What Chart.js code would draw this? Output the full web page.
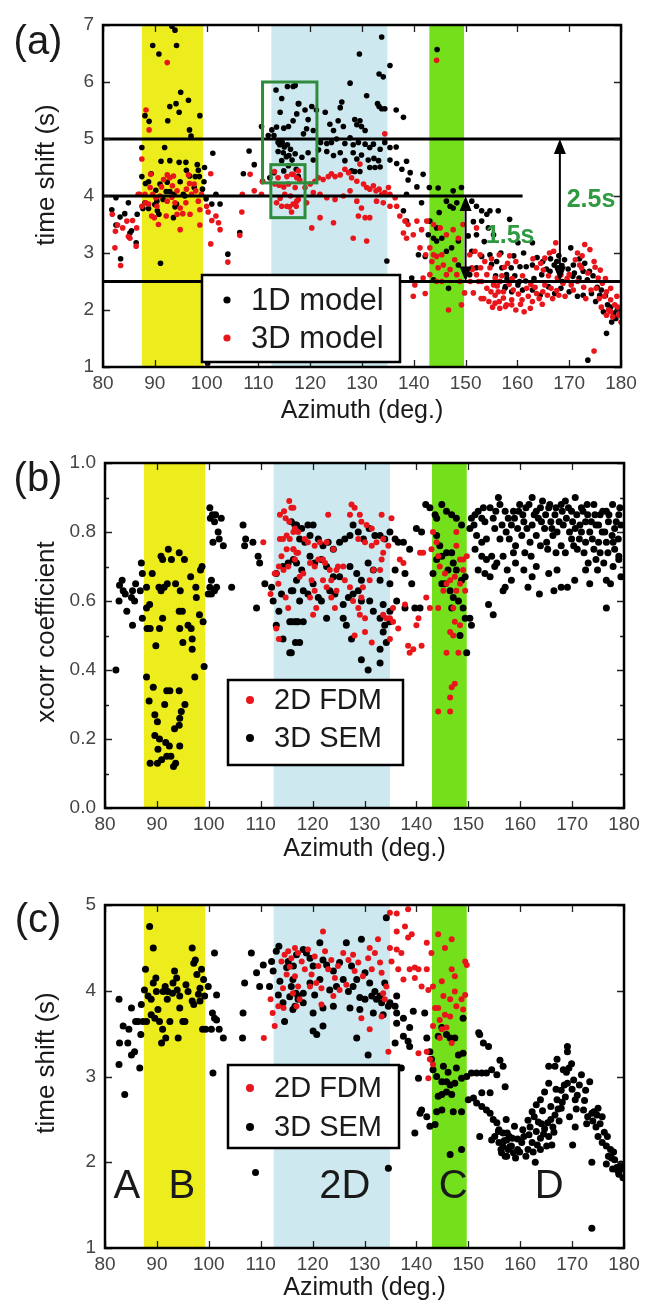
<!DOCTYPE html>
<html>
<head>
<meta charset="utf-8">
<script src="https://cdn.jsdelivr.net/npm/chart.js@4.4.1/dist/chart.umd.min.js"></script>
<style>
  body { margin: 0; background: #fff; }
  #wrap { position: relative; width: 647px; height: 1300px; }
  canvas { position: absolute; left: 0; }
</style>
</head>
<body>
<div id="wrap">
  <canvas id="panelA" width="647" height="430" style="top:0px"></canvas>
  <canvas id="panelB" width="647" height="440" style="top:430px"></canvas>
  <canvas id="panelC" width="647" height="430" style="top:870px"></canvas>
</div>
<script>
// azimuth windows shaded in every panel (deg)
const bandRanges = [[87.5, 99.3], [112.5, 134.9], [143.0, 149.7]];
const bandColors = ['#eded1e', '#cde8ee', '#74e01c'];

// (a) travel time shift, 1D vs 3D model, [azimuth, shift s]
const shift1D = [
  [81.7,3.76],[82.5,3.97],[82.5,3.49],[83.3,3.63],[83.4,2.9],[84.2,3.69],[84.9,3.88],[85.2,3.35],[85.5,3.39],[86.4,3.18],[86.6,3.68],
  [87.5,4.34],[87.5,4.85],[88.1,5.41],[88.9,5.31],[89.6,6.64],[90.8,6.49],[93.3,6.98],[93.9,6.91],[94.2,6.64],[92.9,5.57],[92.5,5.32],
  [94.1,5.62],[94.7,5.47],[95,5.82],[96.5,5.68],[96.7,5.16],[97,5.05],[98.7,5.41],[91.9,4.85],[91.2,4.61],[92.9,4.62],[94.7,4.59],
  [96,4.59],[98.2,4.55],[98.4,4.45],[99.6,4.5],[89.3,4.39],[88.2,4.22],[88.8,4.25],[91,4.21],[92.4,4.24],[94.9,4.25],[96.1,4.45],
  [96.7,4.35],[97.8,4.34],[90.2,4.1],[92.2,4.08],[92.9,4.08],[93.7,4.03],[95.5,4.03],[95.8,4],[97.6,4.15],[99.2,4.12],[87.7,3.78],
  [88.1,3.88],[88.8,3.78],[90,3.85],[90.4,3.91],[90.5,3.74],[90.8,3.68],[91.6,3.94],[93.6,3.62],[94.2,3.86],[93.9,3.81],[91.1,2.82],
  [98.6,4.34],[99.5,4.25],
  [101.2,4.75],[99.9,3.95],[101,3.86],[101.8,4.03],[102.6,3.86],[104.1,2.98],[106.4,3.36],[107.1,4.39],[108.2,4.79],[109.2,4.55],
  [110.6,5.22],[111.9,5.06],[110.8,4.26],[100.2,1.06],
  [113.4,5.86],[114.5,5.71],[114.2,5.47],[113.5,5.21],[112.6,5.16],[113,5.06],[114.9,5.19],[115.8,5.22],[116.7,5.32],[117.4,5.44],
  [117.7,5.62],[115.6,5.92],[116.7,5.92],[113.8,4.94],[114.1,4.9],[114.6,4.94],[115,4.86],[115.6,4.9],[113.8,4.78],[114.8,4.76],
  [115.4,4.69],[115.9,4.71],[116.2,4.82],[116.5,4.63],[114.5,4.62],[114.9,4.44],[115.8,4.53],[117.3,4.47],[117.7,4.34],[112.2,4.32],[113,4.41],
  [117.1,5.94],[117.8,5.62],[119,5.51],[119.6,5.34],[119.3,5.18],[120.3,5.57],[121.2,5.51],[122.9,5.47],[123.8,5.26],[124.5,5.15],
  [125.4,5.32],[126.1,5.65],[125.8,5.55],[126.4,5.22],[127.7,5.98],[128.6,5.34],[129,5.25],[129.6,5.32],[129.9,5.22],[129.5,6.49],
  [130.9,5.76],[133,5.62],[133.3,5.57],[133.8,5.53],[134.4,5.53],[133.3,6.14],[134.1,6.09],[133.8,6.79],[135.4,6.29],[136.6,5.51],
  [138,5.38],[130.6,5.15],
  [118.7,5.09],[120.6,5.15],[122,4.94],[123.2,4.92],[124.1,4.94],[125.1,5],[126.7,4.92],[127.7,5.02],[128.3,4.9],[129.3,4.94],
  [130.6,4.91],[131.5,4.85],[132.2,4.91],[133.5,4.82],[134.4,4.94],[135.4,4.85],[136.6,4.86],[117.1,4.74],[118.4,4.68],[119.6,4.76],
  [120.6,4.63],[121.6,4.81],[123.2,4.78],[124.5,4.71],[125.8,4.76],[126.7,4.62],[128.3,4.76],[129,4.65],[129.9,4.72],[131.2,4.63],
  [132.3,4.66],[133.2,4.62],[133.5,4.51],[131.5,4.5],[132.5,4.5],[128,4.44],[128.6,4.43],[129.6,4.43],[135.4,4.63],[136.7,4.57],
  [137.7,4.47],[138.6,4.61],[139.3,4.41],[141.8,4.38],[143,4.15],[144.7,4.14],[144.5,6.57],[134.8,2.86],[138.9,4.28],[140.6,4.16],
  [147.6,4.09],[149.2,4.15],[146.3,3.91],[147,3.82],[147.6,3.79],[148.3,3.88],[144.9,3.71],[143.1,3.56],[142.8,3.32],[143.8,3.26],
  [144.4,3.21],[145.4,3.26],[146.3,3.03],[147.3,3.09],[148.6,3.21],[144.4,3.44],[142.2,2.94],[140.9,2.97],[139.6,2.56],[138.6,3.56],
  [138,3.74],[138.6,4.03],[141.5,3.88],[146.7,2.38],[143.8,2.53],[148.6,2.79],
  [151.2,3.91],[152.1,3.82],[153.1,3.74],[154.1,3.68],[154.7,3.74],[156.3,3.74],[153.1,3.56],[152.1,3.32],[154.4,3.44],[155.4,3.32],
  [151.2,3.03],[153.1,2.94],[152.1,2.74],[150.8,2.62],[154.7,2.97],[156,2.85],[157,2.74],[157.9,2.62],[156.6,2.5],[157.6,2.38],
  [158.5,3.59],[160.1,3.18],[162.9,3.18],[158.8,2.74],[160.5,2.76],[161.7,2.76],[162.9,2.79],[160.4,2.5],[161.6,2.51],[163.2,2.55],
  [164.7,2.62],[166.3,2.68],[167.1,2.79],[167.9,2.74],[168.7,2.5],[169.1,2.88],[170.3,3.09],[170.7,2.59],[171.9,2.56],[172.7,2.68],
  [173.5,2.53],[173.9,2.68],[172.7,2.26],[174.3,2.29],[175.1,2.15],[175.9,2.26],[176.6,1.97],[177.4,2.09],[178.2,1.79],[178.6,1.94],
  [179,1.85],[177.2,1.59],[173.6,1.12],[157.7,2.41],[158.9,2.32],[160.1,2.44],[162.9,2.35],[164.4,2.26],[166,2.41],[167.2,2.29],
  [168.4,2.38],[170,2.32],[171.6,2.24],[170.8,2.79],
  [159.3,2.95],[161.2,3.0],[163.8,2.92],[164.9,2.85],[165.6,2.72],[166.4,2.9],[167.6,2.85],[168,2.95],[168.6,2.78],[169.8,2.72],
  [171,2.65],[172,2.9],[173,2.82],[174.6,2.6],[175.4,2.4],[176.2,2.35],[177,2.25],[178,2.05],[179.3,2],[161,2.35],[159.5,2.6],
  [158,2.55],[155.8,2.6],[155,2.8],[150.5,3.3],[151.5,3.55],[153.6,3.2],[156.8,3]
];
const shift3D = [
  [81.8,3.68],[82.3,3.09],[82.4,3.38],[82.8,3.49],[83.8,3.44],[84.6,3.56],[84.9,3.29],[85.2,3.26],[85.7,3.57],[86.4,3.12],[86.5,3.44],
  [86.8,4.03],[83.4,2.78],
  [88.3,5.51],[88.9,5.16],[92.4,6.34],[87.5,4.65],[87.1,4.03],[87.5,3.82],[88.1,4.03],[88.8,3.86],[89.4,3.65],[89.9,3.62],[90.4,3.82],
  [89.6,4.03],[91,4],[91.3,4.16],[91.7,4.29],[92.4,4.37],[92.9,4.32],[93.4,4.18],[93.6,4.35],[94.3,4.09],[93.9,3.88],[94.9,3.79],
  [94.3,3.68],[94.9,3.41],[96,3.88],[96.1,4.12],[96.5,4.37],[96.7,4.22],[97.1,4.03],[97.6,4.21],[97.9,4.09],[98.4,3.91],[98.7,3.76],
  [99,4.03],[96.8,3.68],[95.4,3.69],[92.2,3.65],[90.7,3.5],[93.3,3.98],[92.4,3.91],[89.2,4.38],[90.2,3.97],[89.1,4.15],[88.2,3.88],[98.7,3.49],
  [100.8,4.39],[100,3.82],[100.3,3.72],[101,3.57],[101.8,3.65],[102.3,3.53],[102.6,3.41],[100.8,3.16],[104.1,2.84],[106.4,3.31],
  [106.8,3.72],[106.9,4.03],[108.4,4.38],[109.2,4.09],[110.6,4.03],[110.8,4.25],[100.2,0.98],
  [113.1,4.43],[113.8,4.32],[113.2,4.21],[114,4.19],[114.9,4.16],[115.8,4.21],[117.1,4.15],[116.2,4],[115.1,4.03],[114.2,3.96],
  [113.5,3.88],[114.5,3.82],[115.5,3.82],[116.7,3.86],[116,3.81],[116.4,3.72],[117.3,3.82],[117.7,3.94],[116.7,4.38],[115.5,4.34],[117.7,4.44],
  [116.4,4.38],[117.4,4.32],[118,4.28],[119,4.15],[120,4.21],[120.9,4.26],[121.6,4.32],[122.5,4.29],[123.5,4.34],[124.1,4.39],
  [124.8,4.34],[125.8,4.37],[126.7,4.47],[127.4,4.41],[128,4.32],[129,4.26],[129.6,4.56],[130.3,4.21],[130.9,4.15],[131.5,4.12],
  [132.2,4.18],[132.7,4.09],[133.3,4.12],[133.8,4.03],[134.4,4.06],[135.1,4.15],[134.4,5.09],[120.6,4.06],[121.9,4.03],[123.2,3.97],
  [124.8,3.94],[126.4,4],[127.7,4.09],[129,3.91],[129.9,3.79],[130.6,3.62],[131.5,3.62],[129.3,3.65],[124.5,3.53],[121.9,3.62],
  [120.3,3.44],[128.3,3.26],[130.9,3.21],[119.3,3.88],[117.4,3.91],[132.8,3.91],[134.1,3.88],[135.4,4.03],[135.4,3.82],[136.4,3.97],
  [137.3,3.65],[138.3,3.56],[138.9,3.5],[138,3.35],[138.6,3.26],[139.9,3.32],[140.6,3.56],[141.5,3.41],[141.2,3.09],[142.3,2.97],
  [143.1,3.09],[143.8,2.97],[143.5,2.85],[144.4,2.94],[145.4,2.97],[144.7,2.74],[145.7,2.79],[146.3,2.62],[147,2.71],[147.9,2.88],
  [148.3,2.62],[148.9,2.5],[149.2,2.09],[146.7,2],[145.4,2.5],[144.4,2.5],[143.1,2.62],[142.2,2.29],[139.9,2.24],[140.2,2.44],
  [141.8,2.56],[136.7,3.82],[144.4,6.38],[142.5,3.56],[143.8,3.5],[145.1,3.44],[146.3,3.32],[147.6,3.41],[148.6,3.26],[149.5,3.5],
  [150.8,2.97],[151.8,3.03],[152.8,2.97],[153.7,2.85],[154.7,2.74],[151.2,2.74],[152.1,2.62],[153.1,2.5],[154.1,2.38],[155.4,2.44],
  [156.3,2.32],[157.3,2.21],[157.9,2.09],[156.6,2.03],[155.7,2.12],[152.1,3.44],
  [156.5,2.97],[158.1,2.82],[159.7,2.85],[156.5,2.5],[157.3,2.32],[156.5,2.15],[157.7,2.06],[158.9,2.09],[159.7,2],[160.9,2.18],
  [162.1,2.24],[162.9,2.15],[163.7,2.29],[164.9,2.32],[165.3,2.44],[166.5,2.38],[167.7,2.56],[167,3.03],[167.4,3.18],[166.2,3],
  [165.3,2.91],[164.5,2.82],[163.7,2.74],[171.2,2.88],[172,2.79],[171.6,3],[172.4,2.74],[173.6,2.65],[174,3.06],[174.8,2.85],
  [175.6,2.56],[175.2,2.38],[176.4,2.47],[176.8,2.24],[177.2,2.32],[178,2.18],[178.8,2.09],[179.2,2.24],[179.6,1.91],[180,1.79],
  [178,1.97],[177.2,1.91],[174.8,1.28],[170,2.62],[168.8,2.47],[168,2.26],[169.2,2.24],[170.4,2.44],[161.3,1.97],[162.5,2.03],
  [158.9,2.18],[155.7,2.26],[154.9,2.32],[155.7,2.56],[154.1,2.62],[152.9,2.74],[152.5,2.5],[151.3,2.71],[150.9,2.5],
  [153.5,2.2],[154.5,2.15],[155.2,2.05],[156.1,2.42],[157,2.6],[158.4,2.45],[159.2,2.35],[160.2,2.28],[160.6,2.1],[161.8,2.38],
  [162.6,2.45],[163.4,2.4],[164.2,2.2],[164.8,2.1],[165.8,2.26],[166.8,2.2],[167.6,2.34],[168.4,2.62],[169.6,2.55],[170.8,2.35],
  [171.6,2.5],[172.8,2.4],[173.2,2.2],[174.2,2.35],[175.8,2.2],[176.2,2.05],[177.6,2],[178.4,1.88],[179.4,2.05],[179.8,1.95],
  [176,2.7],[177,2.55],[178,2.38],[161,2.6],[159,2.55],[157.5,2.75],[158.5,2.95],[155,2.9],[153,2.2],[151.5,2.3],[149.8,2.3],
  [166,2.6],[165,2.7],[163,2.9],[172.5,2.95],[173,3.15],[175,2.75]
];
// reference levels in (a): [shift, from az, to az]
const refLevels = [[5, 80, 180], [4, 80, 161], [2.5, 80, 180]];
// offsets marked with arrows: [az, low, high, label, label az, label shift]
const offsets = [[150, 2.5, 4, '1.5s', 158.6, 3.3], [168.2, 2.5, 5, '2.5s', 174.2, 3.93]];
// boxed subsets in (a): [az0, shift0, az1, shift1]
const boxes = [[110.8, 6.0, 121.3, 4.23], [112.4, 4.55, 119.0, 3.62]];

// (b) waveform cross-correlation coefficient
const xcorrSEM = [
  [82.8,0.646],[83.3,0.66],[82.7,0.60],[83.5,0.63],[84.2,0.57],[85.1,0.61],[85.3,0.53],[85.3,0.63],[85.9,0.65],[85.7,0.60],[86.8,0.63],
  [87,0.71],[87.2,0.68],[87.2,0.55],[82.1,0.40],[83.9,0.62],
  [88,0.64],[88,0.58],[88.1,0.52],[88.6,0.59],[88.7,0.52],[89.1,0.68],[88,0.38],[88.5,0.31],[89.3,0.35],[89.6,0.27],[90.1,0.25],
  [89.6,0.21],[88.7,0.13],[90.2,0.17],[89.8,0.47],[90.5,0.52],[90.4,0.64],[90.8,0.73],[91.1,0.72],[91.4,0.64],[92,0.65],[92.2,0.75],
  [92.8,0.72],[90.8,0.63],[91.1,0.55],[91.5,0.30],[91.9,0.34],[92.5,0.34],[94.3,0.34],[93.4,0.23],[94.3,0.24],[90.5,0.20],[91.7,0.19],
  [92.4,0.18],[92.7,0.15],[93.2,0.12],[93.6,0.13],[90.9,0.14],[90.1,0.13],[91.9,0.15],[94.4,0.18],[94.3,0.74],[95.3,0.72],[93.6,0.65],
  [94.5,0.63],[94.3,0.57],[94.9,0.57],[94.4,0.52],[95,0.48],[95.4,0.30],[94.7,0.28],[94.4,0.26],[96,0.53],[96.6,0.52],[96.8,0.49],
  [96.8,0.46],[97.3,0.38],[96.5,0.67],[97.5,0.64],[97.6,0.61],[98.2,0.56],[98.9,0.54],[99.1,0.41],[98.4,0.69],[98.7,0.70],
  [100.3,0.84],[100.2,0.87],[101.1,0.83],[100.7,0.85],[101.3,0.85],[102.4,0.84],[100.8,0.77],[101.8,0.80],[102,0.78],[102.8,0.76],
  [100.5,0.66],[100.2,0.64],[100.5,0.62],[101.1,0.63],[99.9,0.62],[101.5,0.64],[104.4,0.64],[106.6,0.82],[106.9,0.76],[107.1,0.78],
  [108.5,0.77],[109.2,0.58],[109.5,0.73],[109.8,0.71],[110.8,0.65],[112.1,0.64],[112.4,0.60],
  [113,0.53],[113.5,0.57],[114,0.62],[114.3,0.49],[115.6,0.45],[116.6,0.82],[116,0.54],[116.6,0.54],[117.2,0.54],[114.3,0.70],
  [115.3,0.71],[116.2,0.63],[113,0.68],[116.7,0.48],
  [115.9,0.83],[116.9,0.82],[117.9,0.81],[119.1,0.82],[120.1,0.82],[117.5,0.78],[118.5,0.77],[119.5,0.79],[121.1,0.78],[122,0.76],
  [123,0.77],[124,0.75],[125.2,0.77],[126.2,0.78],[127.2,0.79],[127.8,0.82],[128.8,0.80],[129.8,0.78],[130.9,0.81],[132,0.79],
  [133,0.79],[133.9,0.78],[134.9,0.80],[135.9,0.78],[136.5,0.77],[137.5,0.77],[138.7,0.75],[140,0.81],[141,0.80],[141.8,0.88],
  [142.6,0.87],[143.6,0.85],[143.9,0.84],[144.9,0.88],[145.8,0.86],[146.8,0.85],[147.7,0.84],[148.7,0.82],[116.3,0.72],[116.9,0.71],
  [117.9,0.69],[119.5,0.73],[120.4,0.71],[121.7,0.72],[122.7,0.70],[124,0.67],[125.2,0.67],[127.2,0.70],[128.5,0.68],[129.4,0.66],
  [130.7,0.71],[131.7,0.69],[133,0.66],[134.9,0.65],[135.9,0.69],[137.8,0.68],[139.1,0.65],[116.9,0.66],[118.2,0.63],[119.1,0.62],
  [120.1,0.65],[121.1,0.61],[121.7,0.60],[117.5,0.60],[115.9,0.63],[123.3,0.63],[124.3,0.62],[125.9,0.59],[126.9,0.61],[127.8,0.62],
  [128.8,0.63],[129.4,0.60],[131,0.60],[131.7,0.57],[133.6,0.59],[134.9,0.57],[136.2,0.60],[137.8,0.58],[139.7,0.58],[140.7,0.58],
  [115.6,0.54],[116.9,0.54],[118.2,0.54],[117.5,0.48],[115.9,0.45],[122.7,0.55],[125.9,0.55],[126.5,0.53],[127.5,0.49],[133,0.55],
  [133.9,0.53],[133.6,0.51],[134.2,0.48],[133,0.46],[129.4,0.43],[130.7,0.40],[133,0.42],[134.9,0.54],
  [143.9,0.79],[144.5,0.76],[144.9,0.73],[145.8,0.74],[146.8,0.74],[147.1,0.71],[147.7,0.69],[146.1,0.69],[145.5,0.65],[144.9,0.65],
  [146.5,0.63],[147.1,0.61],[148.1,0.60],[148.7,0.66],[149.4,0.67],[149,0.58],[149.4,0.55],[148.4,0.50],[149.7,0.45],[146.8,0.58],
  [143.9,0.72],[143.2,0.68],[150.6,0.53],[150.3,0.55],
  [150.3,0.81],[150.6,0.84],[151.3,0.85],[151.9,0.86],[152.6,0.84],[153.2,0.83],[154.2,0.87],[154.8,0.84],[155.8,0.90],[156.1,0.88],
  [157.1,0.86],[157.7,0.84],[151.6,0.79],[152.6,0.77],[153.5,0.78],[155.1,0.81],[156.1,0.78],[151.3,0.75],[152.6,0.73],[153.5,0.72],
  [154.5,0.73],[155.5,0.71],[156.7,0.73],[151.9,0.69],[153.2,0.68],[154.2,0.67],[155.1,0.70],[156.7,0.63],[153.9,0.59],[154.8,0.56],
  [158.7,0.86],[159.9,0.88],[161.1,0.87],[162.3,0.90],[163.1,0.86],[164.3,0.89],[165.5,0.87],[166.7,0.85],[167.9,0.88],[168.7,0.89],
  [169.9,0.86],[170.6,0.90],[171.8,0.87],[173,0.85],[174.2,0.88],[175.4,0.85],[176.6,0.86],[177.8,0.88],[179,0.85],[158.3,0.82],
  [159.5,0.81],[160.7,0.83],[162.3,0.82],[163.5,0.84],[164.7,0.81],[165.9,0.83],[167.1,0.80],[168.3,0.82],[169.5,0.80],[170.6,0.81],
  [171.8,0.80],[172.6,0.83],[173.4,0.80],[174.6,0.82],[175.8,0.80],[177,0.83],[178.2,0.81],[179.4,0.82],[157.9,0.78],[159.1,0.76],
  [160.3,0.79],[161.9,0.77],[163.1,0.79],[165.1,0.77],[166.3,0.79],[167.9,0.76],[169.9,0.78],[171,0.75],[172.6,0.77],[174.2,0.75],
  [175.4,0.74],[176.6,0.77],[178.2,0.75],[179,0.73],[159.1,0.71],[160.7,0.69],[162.3,0.67],[163.1,0.70],[158.3,0.66],[157.1,0.64],
  [165.5,0.68],[167.9,0.64],[169.1,0.64],[172.6,0.69],[173.4,0.65],[174.6,0.72],[176.6,0.66],[177.4,0.65],[179,0.72],[167.1,0.69],
  [157.5,0.69],[176.6,0.58],
  [158.9,0.84],[159.7,0.86],[160.5,0.85],[161.3,0.81],[161.7,0.88],[162.7,0.85],[163.9,0.87],[164.1,0.83],[164.9,0.85],[165.7,0.88],
  [166.1,0.81],[166.9,0.87],[167.5,0.83],[168.1,0.86],[168.9,0.84],[169.3,0.87],[170.1,0.83],[170.9,0.85],[171.5,0.82],[172.1,0.86],
  [172.9,0.88],[173.7,0.83],[174.4,0.85],[175.1,0.82],[175.9,0.86],[176.3,0.80],[177.1,0.85],[177.7,0.79],[178.5,0.83],[179.2,0.87],
  [178.9,0.78],[177.9,0.77],[176.9,0.74],[175.1,0.77],[173.9,0.78],[172.3,0.74],[171.4,0.78],[170.3,0.76],[168.7,0.74],[166.9,0.74],
  [165.3,0.75],[163.9,0.76],[162.1,0.73],[160.9,0.74],[158.7,0.74],[174.9,0.69],[176.1,0.71],[177.9,0.70],[179.4,0.67],[173.1,0.71],
  [161.5,0.64],[163.7,0.62],[166.5,0.63],[170.5,0.66],[155.3,0.86],[156.5,0.82],[157.3,0.80],[152.9,0.87],[151.1,0.82]
];
const xcorrFDM = [
  [110.5,0.77],[111.9,0.62],[113,0.52],[113.5,0.49],[113,0.68],[113.5,0.70],[112.7,0.68],[113.7,0.85],[114.5,0.86],[115.5,0.89],
  [115.9,0.87],[114.8,0.84],[115.5,0.83],[113.7,0.78],[114.3,0.78],[115,0.79],[115.6,0.78],[116.3,0.80],[116.3,0.75],[116.9,0.74],
  [115,0.75],[114,0.73],[114.4,0.69],[115.3,0.70],[113.4,0.65],[114.8,0.61],[115.3,0.58],[116.6,0.72],[117.2,0.74],
  [116.3,0.87],[116.6,0.81],[117.2,0.80],[118.5,0.78],[119.1,0.77],[120.4,0.76],[121.4,0.77],[122.7,0.77],[123,0.85],[124,0.75],
  [121.1,0.72],[122,0.72],[122.4,0.71],[119.5,0.71],[120.4,0.70],[118.2,0.68],[117.5,0.67],[116.3,0.75],[123.3,0.69],[124.9,0.70],
  [125.9,0.70],[127.5,0.88],[128.1,0.87],[127.2,0.85],[129.1,0.85],[129.4,0.83],[130.4,0.82],[131.4,0.81],[128.8,0.78],[130.1,0.77],
  [131.4,0.76],[132.3,0.77],[133.3,0.85],[133.6,0.78],[134.6,0.76],[135.2,0.84],[133.6,0.74],[133.3,0.72],[133,0.69],[131.7,0.69],
  [131,0.66],[129.7,0.64],[129.4,0.61],[128.8,0.58],[129.1,0.56],[130.1,0.55],[127.8,0.60],[127.2,0.64],[126.2,0.66],[124.6,0.69],
  [123.6,0.66],[122.7,0.64],[122,0.66],[119.8,0.66],[120.4,0.63],[119.5,0.61],[120.7,0.58],[120.1,0.56],[123.6,0.61],[124.3,0.58],
  [124.6,0.63],[133.6,0.56],[134.2,0.55],[134.9,0.55],[135.5,0.54],[134.9,0.49],[128.1,0.50],[130.1,0.51],[131.4,0.48],[138.4,0.47],
  [138.7,0.45],[139.4,0.46],[141,0.47],[140,0.53],[140.4,0.55],[141.9,0.61],[142.6,0.58],[136.8,0.72],[137.5,0.71],[140.7,0.74],
  [141.3,0.74],[137.8,0.59],[136.5,0.52],[135.5,0.58],
  [143.2,0.80],[143.9,0.77],[142.9,0.75],[144.2,0.73],[144.5,0.70],[145.5,0.68],[145.8,0.65],[146.5,0.66],[147.4,0.67],[148.4,0.72],
  [149,0.72],[149.7,0.73],[147.7,0.76],[147.7,0.80],[149,0.69],[148.4,0.65],[149.4,0.63],[147.7,0.63],[147.1,0.58],[147.4,0.54],
  [146.5,0.51],[148.4,0.53],[147.1,0.50],[145.8,0.45],[148.1,0.45],[147.4,0.36],[146.8,0.35],[146.5,0.32],[144.2,0.28],[146.5,0.28],
  [144.2,0.58],[145.2,0.63]
];

// (c) time shift, 2D FDM vs 3D SEM
const shiftSEM = [
  [82.7,3.90],[82.7,3.14],[82.8,3.39],[83.5,3.59],[83.8,2.79],[84.4,3.39],[84.6,3.55],[85.1,3.80],[85.1,3.25],[85.7,3.29],[85.9,3.64],
  [86.4,3.64],[86.7,3.10],[86.9,3.49],[87.3,3.64],[87,3.84],
  [87.6,4.01],[87.8,4.25],[88.6,4.75],[89.3,4.50],[88,3.64],[88.3,3.94],[88.9,3.90],[89.3,4.09],[89.8,4.15],[88.9,3.72],[89.6,3.68],
  [90.2,3.78],[90.5,3.64],[91.1,3.55],[90.9,3.39],[91.2,3.99],[91.6,4.05],[92,3.90],[92.1,3.99],[92.5,3.64],[93,3.97],[93.1,4.09],
  [93.4,4.23],[93.8,4.15],[93.9,4.01],[94.4,3.94],[94.4,3.80],[95,3.64],[95.4,3.64],[94.1,3.45],[91.7,3.45],[95.6,4.07],[96,3.99],
  [96.8,4.50],[97.1,4.32],[97.4,4.36],[97.7,4.19],[98,3.96],[98.3,4.03],[98.6,4.25],[99,4.13],[99.2,3.94],[96.8,3.88],[97.1,3.84],
  [98.3,3.88],[98.8,3.55],[89.9,3.99],
  [99.4,3.55],[99.9,4.05],[100.5,3.55],[100.7,3.74],[101.1,3.68],[101.5,3.95],[101.5,3.66],[101.1,4.44],[102,3.55],[102.8,3.45],
  [100.8,3.04],[106.5,3.45],[106.6,3.74],[106.9,4.09],[108.2,4.44],[109,1.88],[109.2,4.21],[109.8,4.05],[110.5,4.30],[111.7,4.05],
  [112.1,4.34],[113,4.46],[113.5,4.52],[112.4,4.23],[113.7,4.11],[113.4,3.95],[114.3,3.86],[114.6,3.64],[115,4.27],[115.3,4.34],
  [116.2,4.13],[116.8,3.97],[117.2,3.90],[115.6,3.93],[116.2,3.78],
  [116.3,4.29],[116.9,4.42],[118.2,4.48],[118.8,4.44],[119.5,4.38],[120.1,4.29],[121.4,4.56],[122,4.36],[122.7,4.30],[124,4.23],
  [125.2,4.33],[126.5,4.56],[127.5,4.29],[128.5,4.13],[129.4,4.60],[130.1,4.21],[131,4.09],[132,3.99],[133,3.94],[133.9,4.09],
  [134.2,4.85],[115.9,4.05],[117.2,3.94],[118.2,3.97],[119.5,4.09],[120.4,3.95],[121.4,4.13],[123.3,4.01],[124.6,4.05],[125.9,4.13],
  [126.9,3.99],[127.8,4.05],[129.1,3.92],[130.1,3.90],[131.4,3.94],[132.3,3.90],[133.3,3.86],[134.6,3.82],[116.6,3.82],[118.2,3.86],
  [120.1,3.74],[122,3.80],[124,3.82],[127.2,3.80],[129.1,3.78],[131.7,3.74],[133.6,3.72],[134.9,3.86],[136.2,3.94],[135.9,3.82],
  [120.1,3.53],[120.8,3.49],[122,3.59],[128.5,3.45],[130.7,3.25],[134.6,1.93],[136.2,3.74],[137.5,3.68],[136.2,3.62],[138.7,3.57],
  [139.4,3.76],[141.6,3.74],[137.5,3.47],[138.4,3.41],[138.7,3.35],[135.9,3.39],[137.1,3.10],[140.4,2.98],[142,3.45],[142.6,3.29],
  [142.9,3.20],[143.2,3.08],[143.9,3.00],[144.9,2.94],[145.8,2.94],[146.5,2.90],[147.4,2.92],[148.7,2.98],[149,3.27],[148.1,3.25],
  [147.4,3.45],[146.5,3.45],[145.8,3.49],[144.9,3.57],[144.2,3.47],[149,3.68],[145.2,3.12],[146.1,3.05],[147.7,3.10],[144.9,2.79],
  [145.8,2.82],[146.8,2.79],[144.2,2.77],[143.9,2.59],[144.9,2.61],[147.1,2.59],[148.7,2.59],[142,2.53],[142.6,2.42],[143.6,2.44],
  [140.7,2.57],[139.7,2.34],[141,2.61],[146.5,2.09],[148.7,2.15],[149.7,3.00],[150,2.73],[150.6,3.04],[151.6,3.04],[152.6,3.04],
  [153.5,3.04],[154.5,3.08],[155.5,3.02],[152.2,3.49],[152.9,3.39],[153.9,3.35],[151,2.75],[151.6,2.69],[152.6,2.65],[153.5,2.61],
  [154.2,2.57],[154.8,2.50],[155.5,2.46],[152.6,2.81],[154.2,2.81],[156.1,3.19],[156.7,3.12],[157.1,2.88],[156.7,2.34],[157.4,2.26],
  [158,2.18],[152.2,2.30],[154.5,2.26],[155.8,2.36],[156.7,2.18],[157.4,2.07],[156.4,2.11],
  [155.1,2.30],[155.9,2.23],[156.3,2.15],[157.1,2.07],[157.5,2.34],[158.3,2.19],[158.7,2.11],[159.5,2.15],[160.3,2.23],[160.7,2.30],
  [161.5,2.15],[162.3,2.23],[163.1,2.36],[163.9,2.28],[164.7,2.39],[163.5,2.47],[161.9,2.41],[162.7,2.53],[165.5,2.30],[166.3,2.41],
  [166.7,2.55],[165.9,2.65],[167.1,2.73],[167.9,2.63],[167.9,2.84],[168.7,2.76],[168.3,3.08],[169.1,2.92],[166.7,3.12],[167.1,3.20],
  [165.5,3.12],[169.1,3.29],[169.9,3.15],[170.3,2.96],[170.6,2.73],[169.5,2.53],[170.6,2.41],[171.8,3.02],[172.6,2.84],[173.4,2.94],
  [173.8,2.57],[174.2,2.59],[173,2.53],[172.2,2.61],[175,2.63],[175.8,2.53],[174.6,2.41],[175,2.30],[175.8,2.23],[176.6,2.19],
  [177,2.07],[177.4,2.15],[178.2,2.03],[178.6,1.94],[179,1.86],[179.4,1.98],[177.8,1.92],[176.6,1.98],[173.8,2.00],[173.8,1.23],
  [163.9,2.15],[165.1,2.19],[159.5,2.27],[157.9,2.30],[155.9,2.38],[165.5,2.92],[164.7,2.82],[163.9,2.73],[163.1,2.67],[162.3,2.59],
  [161.5,2.49],[152,3.51],[169.1,3.35],
  [156.9,2.25],[157.7,2.15],[158.5,2.28],[159.1,2.05],[159.9,2.12],[160.5,2.38],[161.1,2.07],[161.7,2.32],[162.5,2.12],[163.3,2.2],
  [164.1,2.45],[164.5,2.33],[165.3,2.46],[165.9,2.5],[166.5,2.35],[167.3,2.62],[167.5,2.48],[168.1,2.7],[168.5,2.9],[168.9,3.05],
  [169.4,3.1],[170,2.85],[170.8,2.62],[171.4,2.9],[171,2.78],[172.4,2.72],[172.8,2.45],[174,2.48],[174.8,2.55],[175.4,2.45],
  [176.2,2.35],[176.8,2.3],[177.6,2.05],[178,2.12],[178.8,1.9],[179.6,1.92],[179.8,1.82],[158.9,2.42],[162.9,2],[166.1,2.2],
  [170.1,2.2],[164.3,2.6],[166.9,2.85],[157.3,2.5]
];
const shiftFDM = [
  [110.6,3.45],[111.9,3.90],[112.3,3.74],[112.7,3.59],[113.4,3.82],[114,4.34],[114.6,4.42],[115.3,4.46],[115,4.19],[114.3,4.03],
  [115.6,4.28],[116.6,4.17],[116.2,3.97],[117.2,4.05],[114.4,3.80],
  [115.9,4.38],[116.6,4.50],[117.2,4.44],[117.9,4.34],[118.5,4.25],[119.1,4.48],[119.8,4.19],[120.4,4.40],[121.1,4.29],[122,4.69],
  [122.4,4.46],[123,4.25],[123.6,4.36],[124.3,4.15],[124.9,4.29],[125.9,4.44],[126.9,4.36],[127.8,4.42],[128.1,4.23],[128.8,4.33],
  [129.7,4.17],[130.7,4.38],[131.4,4.25],[132,4.44],[132.6,4.60],[133,4.33],[133.3,4.21],[133.6,3.97],[133.9,3.90],[134.2,4.05],
  [131,4.50],[119.5,4.05],[120.7,4.09],[121.7,4.03],[124,3.94],[125.2,4.01],[126.5,4.07],[117.5,3.90],[116.9,3.82],[121.7,3.84],
  [129.4,3.68],[131,3.55],[133.3,3.70],[134.6,3.29],[134.9,4.91],[136.2,4.90],[138.4,4.95],[136.2,4.69],[137.8,4.75],[138.4,4.62],
  [139.1,4.66],[134.9,4.50],[136.2,4.48],[137.1,4.44],[135.2,4.34],[136.5,4.25],[137.5,4.13],[138.7,4.25],[139.7,4.27],[140.4,4.25],
  [141,4.05],[142,4.25],[142,4.56],[142.9,4.44],[144.2,4.66],[145.5,4.50],[146.8,4.60],[139.7,4.15],[142.3,4.01],[143.2,4.05],
  [144.9,4.11],[146.8,4.25],[147.4,4.17],[149.4,4.34],[149.7,4.30],[143.6,3.80],[144.2,3.80],[145.2,3.94],[146.5,3.90],[147.4,3.99],
  [147.7,3.82],[148.7,3.90],[149,3.78],[149.4,3.95],[144.5,3.66],[145.5,3.72],[146.5,3.70],[143.2,3.59],[144.9,3.55],[145.8,3.57],
  [146.8,3.39],[144.5,3.45],[140.4,3.27],[142,3.29],[142.6,3.20],[143.2,3.14],[142.3,2.98]
];
// region letters along the bottom of (c): [text, az, shift]
const regionTags = [['A', 84.2, 1.71], ['B', 94.8, 1.71], ['2D', 126.2, 1.71], ['C', 147.1, 1.71], ['D', 165.6, 1.71]];

const FONT = '"Liberation Sans", Arial, sans-serif';
const RED = '#e8161b';

function pts(list) { return list.map(p => ({ x: p[0], y: p[1] })); }

function scatterSet(list, color, r, order) {
  return { data: pts(list), backgroundColor: color, borderWidth: 0, pointRadius: r, pointHoverRadius: r, order: order };
}

function drawArrowHead(ctx, x, tipY, dir) {
  ctx.beginPath();
  ctx.moveTo(x, tipY);
  ctx.lineTo(x - 6, tipY + dir * 15);
  ctx.lineTo(x + 6, tipY + dir * 15);
  ctx.closePath();
  ctx.fill();
}

function drawKey(ctx, box, rows, size, r) {
  ctx.fillStyle = '#fff';
  ctx.fillRect(box[0], box[1], box[2] - box[0], box[3] - box[1]);
  ctx.strokeStyle = '#000';
  ctx.lineWidth = 2.5;
  ctx.strokeRect(box[0], box[1], box[2] - box[0], box[3] - box[1]);
  ctx.font = size + 'px ' + FONT;
  ctx.textAlign = 'left';
  ctx.textBaseline = 'middle';
  rows.forEach(row => {
    ctx.fillStyle = row.color;
    ctx.beginPath();
    ctx.arc(row.mx, row.y, r, 0, Math.PI * 2);
    ctx.fill();
    ctx.fillStyle = '#1a1a1a';
    ctx.fillText(row.text, row.tx, row.y + 1);
  });
}

// bands, frame, inward ticks, titles and per-panel extras
function panelDecor(p) {
  return {
    id: 'decor',
    beforeDatasetsDraw(chart) {
      const { ctx, chartArea: a, scales: { x } } = chart;
      ctx.save();
      bandRanges.forEach((b, i) => {
        const l = x.getPixelForValue(b[0]);
        const r = x.getPixelForValue(b[1]);
        ctx.fillStyle = bandColors[i];
        ctx.fillRect(l, a.top, r - l, a.bottom - a.top);
      });
      ctx.restore();
    },
    afterDatasetsDraw(chart) {
      const { ctx, chartArea: a, scales: { x, y } } = chart;
      ctx.save();
      if (p.extra) p.extra(chart, ctx);
      // tick marks point into the plot on all four sides
      ctx.strokeStyle = '#222';
      ctx.lineWidth = 1.3;
      ctx.beginPath();
      x.ticks.forEach(t => {
        const px = Math.round(x.getPixelForValue(t.value)) + 0.5;
        ctx.moveTo(px, a.bottom); ctx.lineTo(px, a.bottom - 7);
        ctx.moveTo(px, a.top); ctx.lineTo(px, a.top + 7);
      });
      y.ticks.forEach(t => {
        const py = Math.round(y.getPixelForValue(t.value)) + 0.5;
        ctx.moveTo(a.left, py); ctx.lineTo(a.left + 7, py);
        ctx.moveTo(a.right, py); ctx.lineTo(a.right - 7, py);
      });
      (p.minorY || []).forEach(v => {
        const py = Math.round(y.getPixelForValue(v)) + 0.5;
        ctx.moveTo(a.left, py); ctx.lineTo(a.left + 4, py);
        ctx.moveTo(a.right, py); ctx.lineTo(a.right - 4, py);
      });
      ctx.stroke();
      ctx.strokeStyle = '#000';
      ctx.lineWidth = 2.5;
      ctx.strokeRect(a.left, a.top, a.right - a.left, a.bottom - a.top);
      if (p.key) drawKey(ctx, p.key.box, p.key.rows, p.key.size, p.key.r);
      // panel letter and axis titles
      ctx.fillStyle = '#1a1a1a';
      ctx.textAlign = 'center';
      ctx.textBaseline = 'middle';
      ctx.font = '40px ' + FONT;
      ctx.fillText(p.letter, 38, p.letterY);
      ctx.font = '25px ' + FONT;
      ctx.fillText('Azimuth (deg.)', (a.left + a.right) / 2, p.xTitleY);
      ctx.translate(47, p.yTitleY);
      ctx.rotate(-Math.PI / 2);
      ctx.font = '26px ' + FONT;
      ctx.fillText(p.yTitle, 0, 0);
      ctx.restore();
    }
  };
}

function panelOptions(cfg) {
  return {
    responsive: false,
    animation: false,
    events: [],
    layout: { padding: { left: 0, right: cfg.padRight, top: cfg.padTop, bottom: 0 } },
    plugins: { legend: { display: false }, tooltip: { enabled: false } },
    scales: {
      x: {
        type: 'linear', min: 80, max: 180,
        afterFit: s => { s.height = cfg.xHeight; },
        grid: { display: false, drawTicks: false },
        border: { display: false },
        ticks: { stepSize: 10, padding: 5, color: '#444', maxRotation: 0, autoSkip: false,
                 font: { family: FONT, size: 19 } }
      },
      y: {
        type: 'linear', min: cfg.yMin, max: cfg.yMax,
        afterFit: s => { s.width = cfg.left; },
        grid: { display: false, drawTicks: false },
        border: { display: false },
        ticks: { stepSize: cfg.yStep, padding: 9, color: '#444', font: { family: FONT, size: 19 },
                 callback: cfg.yFmt }
      }
    }
  };
}

// (a) arrows, reference levels and boxes
function extrasA(chart, ctx) {
  const { scales: { x, y } } = chart;
  ctx.strokeStyle = '#000';
  ctx.lineWidth = 3;
  refLevels.forEach(l => {
    const py = y.getPixelForValue(l[0]);
    ctx.beginPath();
    ctx.moveTo(x.getPixelForValue(l[1]), py);
    ctx.lineTo(x.getPixelForValue(l[2]), py);
    ctx.stroke();
  });
  ctx.strokeStyle = '#2f8c3c';
  ctx.lineWidth = 3;
  boxes.forEach(b => {
    const l = x.getPixelForValue(b[0]), t = y.getPixelForValue(b[1]);
    const r = x.getPixelForValue(b[2]), bt = y.getPixelForValue(b[3]);
    ctx.strokeRect(l, t, r - l, bt - t);
  });
  offsets.forEach(o => {
    const px = x.getPixelForValue(o[0]);
    const lo = y.getPixelForValue(o[1]), hi = y.getPixelForValue(o[2]);
    ctx.strokeStyle = '#000';
    ctx.fillStyle = '#000';
    ctx.lineWidth = 2;
    ctx.beginPath();
    ctx.moveTo(px, hi + 10);
    ctx.lineTo(px, lo - 10);
    ctx.stroke();
    drawArrowHead(ctx, px, hi, 1);
    drawArrowHead(ctx, px, lo, -1);
    ctx.fillStyle = '#2f9a40';
    ctx.font = 'bold 25px ' + FONT;
    ctx.textAlign = 'center';
    ctx.textBaseline = 'middle';
    ctx.fillText(o[3], x.getPixelForValue(o[4]), y.getPixelForValue(o[5]));
  });
}

function extrasC(chart, ctx) {
  const { scales: { x, y } } = chart;
  ctx.fillStyle = '#1a1a1a';
  ctx.font = '40px ' + FONT;
  ctx.textAlign = 'center';
  ctx.textBaseline = 'middle';
  regionTags.forEach(t => ctx.fillText(t[0], x.getPixelForValue(t[1]), y.getPixelForValue(t[2])));
}

new Chart(document.getElementById('panelA'), {
  type: 'scatter',
  data: { datasets: [scatterSet(shift3D, RED, 2.8, 0), scatterSet(shift1D, '#000', 2.8, 1)] },
  options: panelOptions({ left: 103, padRight: 26, padTop: 25, xHeight: 63, yMin: 1, yMax: 7, yStep: 1,
                          yFmt: v => String(v) }),
  plugins: [panelDecor({
    letter: '(a)', letterY: 43, xTitleY: 411, yTitleY: 175, yTitle: 'time shift (s)', extra: extrasA,
    key: { box: [202, 275, 400, 362], size: 31, r: 3.6,
           rows: [{ text: '1D model', color: '#000', y: 300, mx: 227, tx: 251 },
                  { text: '3D model', color: RED, y: 338, mx: 227, tx: 251 }] }
  })]
});

new Chart(document.getElementById('panelB'), {
  type: 'scatter',
  data: { datasets: [scatterSet(xcorrFDM, RED, 3.0, 0), scatterSet(xcorrSEM, '#000', 3.5, 1)] },
  options: panelOptions({ left: 105, padRight: 23, padTop: 33, xHeight: 62, yMin: 0, yMax: 1, yStep: 0.2,
                          yFmt: v => v.toFixed(1) }),
  plugins: [panelDecor({
    letter: '(b)', letterY: 50, xTitleY: 419, yTitleY: 202, yTitle: 'xcorr coefficient',
    minorY: [0.1, 0.3, 0.5, 0.7, 0.9],
    key: { box: [228, 250, 403, 335], size: 29, r: 4,
           rows: [{ text: '2D FDM', color: RED, y: 270, mx: 250, tx: 274 },
                  { text: '3D SEM', color: '#000', y: 308, mx: 250, tx: 274 }] }
  })]
});

new Chart(document.getElementById('panelC'), {
  type: 'scatter',
  data: { datasets: [scatterSet(shiftFDM, RED, 3.0, 0), scatterSet(shiftSEM, '#000', 3.5, 1)] },
  options: panelOptions({ left: 105, padRight: 23, padTop: 35, xHeight: 52, yMin: 1, yMax: 5, yStep: 1,
                          yFmt: v => String(v) }),
  plugins: [panelDecor({
    letter: '(c)', letterY: 51, xTitleY: 418, yTitleY: 193, yTitle: 'time shift (s)', extra: extrasC,
    key: { box: [228, 195, 399, 278], size: 29, r: 4,
           rows: [{ text: '2D FDM', color: RED, y: 218, mx: 250, tx: 274 },
                  { text: '3D SEM', color: '#000', y: 257, mx: 250, tx: 274 }] }
  })]
});
</script>
</body>
</html>
